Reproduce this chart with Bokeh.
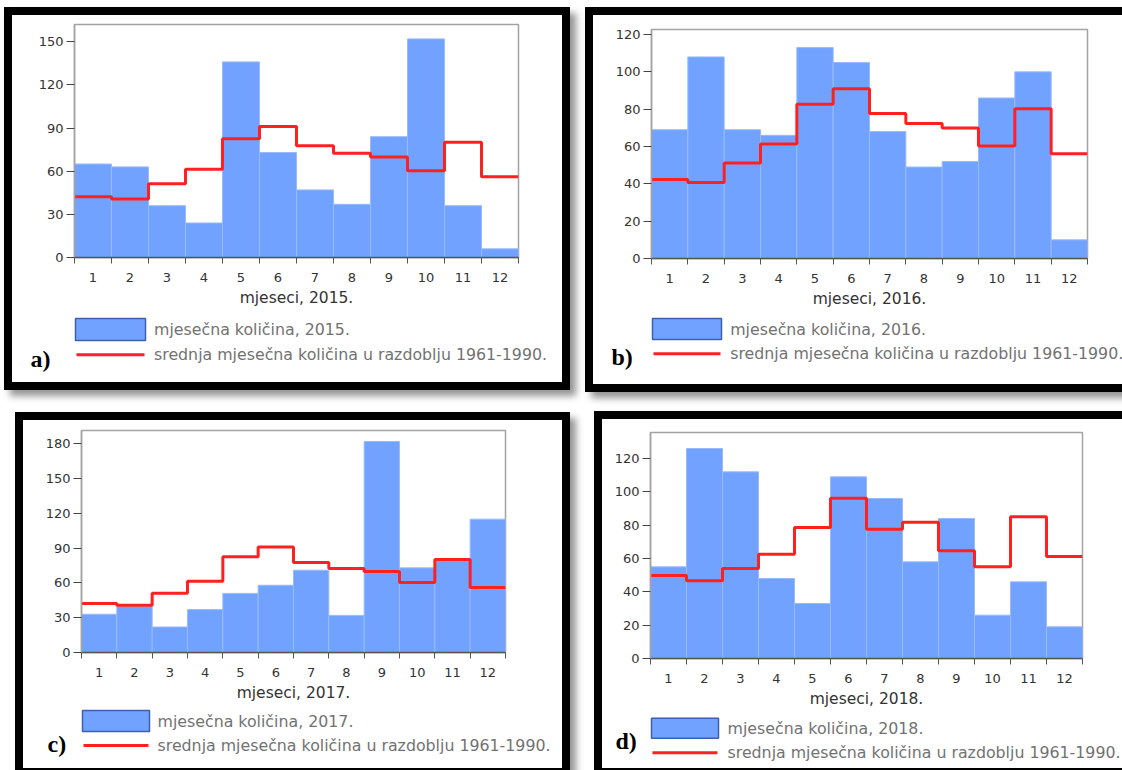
from bokeh.plotting import figure
from bokeh.layouts import row, column
from bokeh.models import FixedTicker, Range1d
from bokeh.core.properties import value
from bokeh.embed import file_html
from bokeh.resources import INLINE

# Monthly precipitation (mm) per year and the 1961-1990 monthly means
months = list(range(1, 13))
month_edges = [m - 0.5 for m in months] + [12.5]

rain_2015 = [65, 63, 36, 24, 136, 73, 47, 37, 84, 152, 36, 6]
rain_2016 = [69, 108, 69, 66, 113, 105, 68, 49, 52, 86, 100, 10]
rain_2017 = [33, 40, 22, 37, 51, 58, 71, 32, 182, 73, 80, 115]
rain_2018 = [55, 126, 112, 48, 33, 109, 96, 58, 84, 26, 46, 19]

mean_1961_1990 = [42.3, 40.7, 51.2, 61.4, 82.6, 91.0, 77.7, 72.4, 69.9, 60.3, 80.2, 56.1]
mean_1961_1990_d = [49.8, 46.6, 54.0, 62.6, 78.6, 96.2, 77.6, 81.8, 64.6, 55.0, 85.0, 61.2]

yticks_a = [0, 30, 60, 90, 120, 150]
yticks_b = [0, 20, 40, 60, 80, 100, 120]
yticks_c = [0, 30, 60, 90, 120, 150, 180]
yticks_d = [0, 20, 40, 60, 80, 100, 120]

MEAN_LABEL = "srednja mjesečna količina u razdoblju 1961-1990."

BAR_FILL = "#72a2ff"
BAR_EDGE = "#98baff"
SWATCH_EDGE = "#3d5fae"
RED = "#ff2020"
FONT = "DejaVu Sans"


def chart(year, values, means, yticks, ymax, w, h, borders):
    left, right, top, bottom = borders
    p = figure(width=w, height=h, x_range=Range1d(0.5, 12.5),
               y_range=Range1d(0, ymax), output_backend="svg",
               toolbar_location=None, min_border_left=left,
               min_border_right=right, min_border_top=top,
               min_border_bottom=bottom)
    p.xgrid.visible = False
    p.ygrid.visible = False
    p.outline_line_color = "#a3a3a3"
    p.outline_line_width = 1.5

    p.vbar(x=months, top=values, width=1, bottom=0,
           fill_color=BAR_FILL, line_color=BAR_EDGE, line_width=1)
    p.step(x=month_edges, y=means + [means[-1]], mode="after",
           line_color=RED, line_width=3)

    xa = p.xaxis[0]
    xa.ticker = FixedTicker(ticks=months, minor_ticks=month_edges)
    xa.major_tick_out = 0
    xa.major_tick_in = 0
    xa.minor_tick_out = 6
    xa.minor_tick_in = 0
    xa.minor_tick_line_color = "#555555"
    xa.axis_line_color = "#555555"
    xa.axis_line_width = 1.5
    xa.major_label_standoff = 9
    xa.major_label_text_font = FONT
    xa.major_label_text_font_size = "13px"
    xa.major_label_text_color = "#333333"
    xa.axis_label = f"mjeseci, {year}."
    xa.axis_label_standoff = 4
    xa.axis_label_text_font = FONT
    xa.axis_label_text_font_size = "15.5px"
    xa.axis_label_text_font_style = "normal"
    xa.axis_label_text_color = "#333333"

    ya = p.yaxis[0]
    ya.ticker = FixedTicker(ticks=yticks)
    ya.major_tick_out = 8
    ya.major_tick_in = 0
    ya.minor_tick_out = 0
    ya.minor_tick_in = 0
    ya.major_tick_line_color = "#444444"
    ya.axis_line_color = "#a3a3a3"
    ya.axis_line_width = 1.5
    ya.major_label_standoff = 3
    ya.major_label_text_font = FONT
    ya.major_label_text_font_size = "13px"
    ya.major_label_text_color = "#333333"
    return p


def footer(year, w, h, sw, line_y, text_x, letter, letter_xy):
    # legend strip below a chart, laid out in pixels from its top-left corner
    f = figure(width=w, height=h, x_range=Range1d(0, w), y_range=Range1d(h, 0),
               x_axis_type=None, y_axis_type=None, output_backend="svg",
               toolbar_location=None, min_border=0)
    f.xgrid.visible = False
    f.ygrid.visible = False
    f.outline_line_color = None

    sx0, sx1, sy0, sy1 = sw
    f.quad(left=[sx0], right=[sx1], top=[sy0], bottom=[sy1],
           fill_color=BAR_FILL, line_color=SWATCH_EDGE, line_width=1.5)
    f.segment(x0=[sx0 + 1], x1=[sx1 - 1], y0=[line_y], y1=[line_y],
              line_color=RED, line_width=3)
    f.text(x=[text_x, text_x], y=[(sy0 + sy1) / 2, line_y],
           text=[f"mjesečna količina, {year}.", MEAN_LABEL],
           text_font=value(FONT), text_font_size="15.8px",
           text_baseline="middle", text_align="left", text_color="#727272")
    f.text(x=[letter_xy[0]], y=[letter_xy[1]], text=[letter],
           text_font=value("Liberation Serif"), text_font_style="bold",
           text_font_size="24px", text_baseline="middle", text_align="left",
           text_color="black")
    return f


def panel(top_part, bottom_part, margin):
    box = column(top_part, row(bottom_part), margin=margin, spacing=0)
    box.styles = {"outline": "8px solid black",
                  "box-shadow": "6px 6px 7px 8px rgba(0,0,0,0.42)",
                  "background-color": "white"}
    return box


pa = panel(chart(2015, rain_2015, mean_1961_1990, yticks_a, 162, 550, 300,
                 (62, 44, 9, 58)),
           footer(2015, 550, 67, (63, 133, 3, 25), 39.3, 141.5, "a)", (18, 43)),
           (15, 0, 0, 12))
pb = panel(chart(2016, rain_2016, mean_1961_1990, yticks_b, 122.7, 529, 300,
                 (58, 35, 14, 57)),
           footer(2016, 529, 69, (59, 128, 3, 24), 38.3, 136.7, "b)", (18, 41.7)),
           (15, 0, 0, 31))
pc = panel(chart(2017, rain_2017, mean_1961_1990, yticks_c, 191.5, 539, 285,
                 (58, 57, 10, 53)),
           footer(2017, 539, 63, (59, 126, 5, 26), 40, 134, "c)", (24, 38)),
           (36, 0, 0, 23))
pd = panel(chart(2018, rain_2018, mean_1961_1990_d, yticks_d, 135.6, 520, 292,
                 (48, 40, 13, 53)),
           footer(2018, 520, 57, (49, 116, 6.7, 26.7), 41.3, 125, "d)", (13, 29)),
           (35, 0, 0, 40))

layout = column(row(pa, pb), row(pc, pd))

open("out.html", "w").write(file_html(layout, INLINE))
